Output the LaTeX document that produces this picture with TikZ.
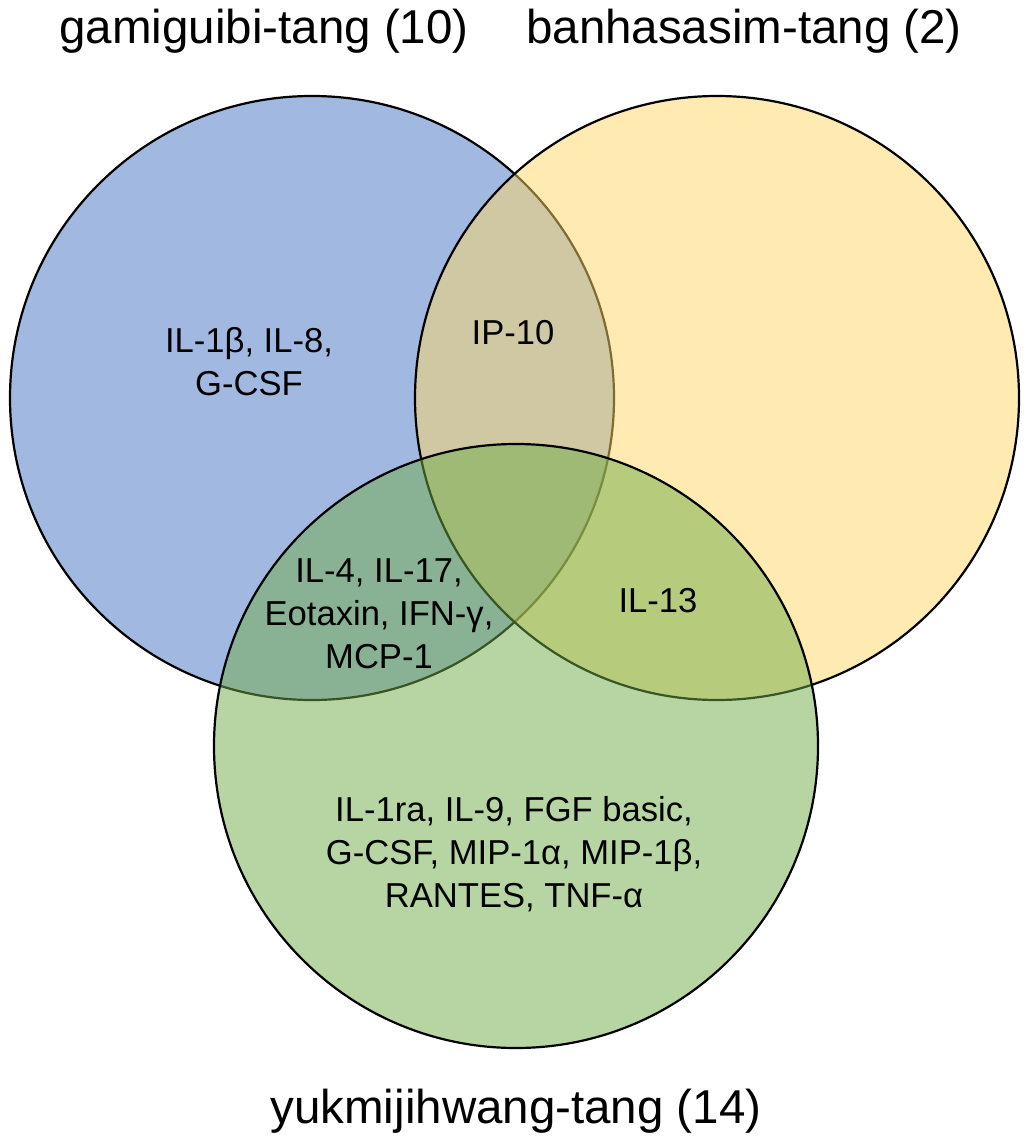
\documentclass[tikz,border=0pt]{standalone}
\usepackage{fontspec}
\setmainfont{Liberation Sans}
\definecolor{vblue}{HTML}{4472C4}
\definecolor{vyellow}{HTML}{FFD966}
\definecolor{vgreen}{HTML}{70AD47}
\tikzset{
  setcircle/.style={draw=black, line width=2.2pt, fill opacity=0.5},
  titletext/.style={font=\fontsize{47.5}{56}\selectfont, inner sep=0pt, anchor=base},
  itemtext/.style={font=\fontsize{34.6}{43}\selectfont, inner sep=0pt, anchor=base, align=center}
}
\begin{document}
\begin{tikzpicture}[x=1pt,y=-1pt]
\useasboundingbox (0,0) rectangle (1026,1139);
\fill[white] (0,0) rectangle (1026,1139);
\draw[setcircle, fill=vblue] (312,398) circle[radius=302] coordinate (cblue);
\draw[setcircle, fill=vyellow] (717,398) circle[radius=302] coordinate (cyellow);
\draw[setcircle, fill=vgreen] (516,746) circle[radius=302] coordinate (cgreen);
\node[titletext] (t1) at (264,44) {gamiguibi-tang (10)};
\node[titletext] (t2) at (744,44) {banhasasim-tang (2)};
\node[titletext] (t3) at (516,1123) {yukmijihwang-tang (14)};
\node[itemtext] (a) at (249,395) {IL-1β, IL-8,\\G-CSF};
\node[itemtext] (ab) at (513,344) {IP-10};
\node[itemtext] (ac) at (379,668) {IL-4, IL-17,\\Eotaxin, IFN-γ,\\MCP-1};
\node[itemtext] (bc) at (658,612) {IL-13};
\node[itemtext] (c) at (514,907) {IL-1ra, IL-9, FGF basic,\\G-CSF, MIP-1α, MIP-1β,\\RANTES, TNF-α};
\end{tikzpicture}
\end{document}
